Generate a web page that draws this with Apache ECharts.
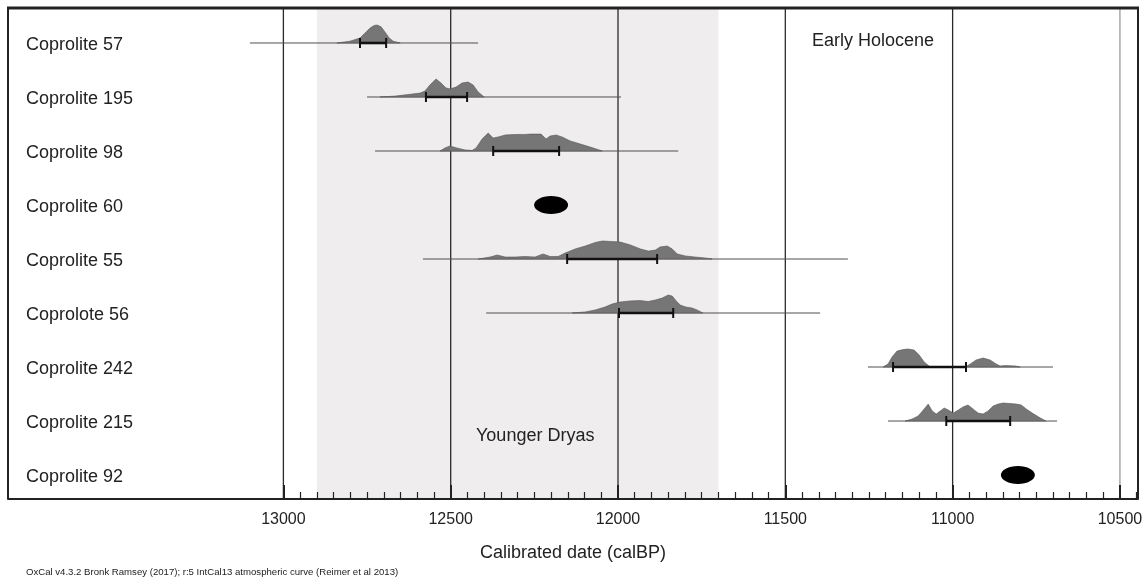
<!DOCTYPE html>
<html><head><meta charset="utf-8">
<script src="https://cdn.jsdelivr.net/npm/echarts@6/dist/echarts.min.js"></script>
<style>html,body{margin:0;padding:0;background:#fff}#c{width:1148px;height:580px}</style>
</head><body><div id="c"></div>
<script>
// ---------- data ----------
const samples = ['Coprolite 57','Coprolite 195','Coprolite 98','Coprolite 60','Coprolite 55','Coprolote 56','Coprolite 242','Coprolite 215','Coprolite 92'];
// full extent of each calibrated range (thin line), calBP
const rangeLines = [[13100,12418],[12750,11991],[12726,11820],null,[12583,11313],[12394,11396],[11253,10700],[11193,10688],null];
// highlighted range (thick bar with end ticks), calBP
const rangeBars = [[12771,12693],[12574,12451],[12373,12176],null,[12152,11883],[11997,11835],[11178,10960],[11019,10828],null];
// single-point dates (ellipse marks), calBP
const pointDates = [null,null,null,12200,null,null,null,null,10805];
// relative probability distributions [calBP, relative density]
const dist57 = [[12840,0],[12801,0.1],[12771,0.28],[12756,0.55],[12741,0.83],[12729,0.97],[12720,1],[12708,0.9],[12696,0.6],[12684,0.28],[12672,0.1],[12651,0]];
const dist195 = [[12711,0],[12666,0.05],[12621,0.15],[12591,0.22],[12577,0.33],[12562,0.67],[12544,1],[12529,0.78],[12514,0.5],[12502,0.45],[12484,0.55],[12466,0.78],[12448,0.83],[12433,0.67],[12418,0.28],[12400,0]];
const dist98 = [[12532,0],[12517,0.17],[12502,0.28],[12482,0.17],[12457,0.06],[12436,0.03],[12424,0.17],[12406,0.67],[12388,1],[12373,0.72],[12358,0.78],[12337,0.89],[12307,0.92],[12278,0.92],[12263,0.94],[12242,0.94],[12230,0.94],[12215,0.67],[12203,0.83],[12185,0.89],[12167,0.78],[12143,0.56],[12113,0.39],[12083,0.22],[12047,0]];
const dist55 = [[12418,0],[12382,0.11],[12361,0.22],[12337,0.11],[12307,0.11],[12278,0.14],[12248,0.11],[12224,0.28],[12203,0.14],[12179,0.14],[12158,0.33],[12128,0.56],[12098,0.72],[12068,0.92],[12047,1],[12017,0.97],[11993,0.94],[11963,0.78],[11933,0.56],[11909,0.44],[11888,0.5],[11874,0.67],[11853,0.72],[11838,0.56],[11823,0.28],[11799,0.17],[11770,0.11],[11740,0.06],[11719,0]];
const dist56 = [[12137,0],[12098,0.06],[12068,0.17],[12039,0.33],[12018,0.5],[11994,0.61],[11964,0.67],[11934,0.69],[11910,0.64],[11889,0.72],[11868,0.83],[11850,1],[11838,0.94],[11826,0.67],[11814,0.44],[11797,0.33],[11779,0.28],[11764,0.17],[11746,0]];
const dist242 = [[11208,0],[11193,0.17],[11181,0.56],[11166,0.89],[11148,0.97],[11133,1],[11115,0.94],[11100,0.67],[11085,0.28],[11067,0],[10962,0],[10947,0.17],[10930,0.39],[10909,0.5],[10888,0.39],[10870,0.17],[10858,0.06],[10843,0.08],[10813,0.06],[10798,0]];
const dist215 = [[11142,0],[11121,0.11],[11103,0.28],[11085,0.67],[11073,0.94],[11061,0.56],[11049,0.39],[11037,0.56],[11025,0.72],[11013,0.61],[10998,0.44],[10983,0.61],[10969,0.78],[10954,0.89],[10939,0.67],[10924,0.44],[10909,0.39],[10894,0.56],[10879,0.83],[10864,0.94],[10849,1],[10828,0.97],[10810,0.94],[10795,0.89],[10780,0.67],[10762,0.44],[10738,0.17],[10721,0]];
const distributions = [dist57, dist195, dist98, null, dist55, dist56, dist242, dist215, null];
// Younger Dryas interval, calBP
const youngerDryas = [12900, 11700];
// axis ticks
const majorTicks = [13000, 12500, 12000, 11500, 11000, 10500];
const minorTicks = [];
for (let v = 12950; v >= 10450; v -= 50) if (v % 500 !== 0) minorTicks.push(v);

// ---------- chart ----------
const FONT = '"Liberation Sans", Arial, sans-serif';
const X_MIN = 10446, X_MAX = 13823;
const chart = echarts.init(document.getElementById('c'), null, {renderer: 'canvas'});

const gridBox = {left: 8, right: 10, top: 8, bottom: 81, containLabel: false};

const option = {
  animation: false,
  backgroundColor: '#fff',
  grid: [Object.assign({}, gridBox), Object.assign({}, gridBox)],
  xAxis: [{
    gridIndex: 0, type: 'value', min: X_MIN, max: X_MAX, inverse: true, position: 'bottom', z: 10,
    axisLine: {show: true, onZero: false, lineStyle: {color: '#222', width: 2}},
    axisTick: {show: true, inside: true, length: 14, customValues: majorTicks, lineStyle: {color: '#222', width: 2}},
    axisLabel: {show: true, customValues: majorTicks, formatter: v => String(v), fontSize: 16, color: '#222', fontFamily: FONT, margin: 13},
    splitLine: {show: false},
    name: 'Calibrated date (calBP)', nameLocation: 'middle', nameGap: 45,
    nameTextStyle: {fontSize: 18, color: '#222', fontFamily: FONT}
  }, {
    gridIndex: 1, type: 'value', min: X_MIN, max: X_MAX, inverse: true, position: 'bottom', z: 10,
    axisLine: {show: false, onZero: false},
    axisTick: {show: true, inside: true, length: 7, customValues: minorTicks, lineStyle: {color: '#222', width: 1.2}},
    axisLabel: {show: false},
    splitLine: {show: false}
  }],
  yAxis: [
    {gridIndex: 0, type: 'value', min: -0.648, max: 8.444, inverse: true, show: false},
    {gridIndex: 1, type: 'value', min: 0, max: 1, show: false}
  ],
  graphic: [
    {type: 'text', z: 100, left: 812, top: 32, style: {text: 'Early Holocene', font: '18px ' + FONT, fill: '#222'}},
    {type: 'text', z: 100, left: 476, top: 427, style: {text: 'Younger Dryas', font: '18px ' + FONT, fill: '#222'}},
    {type: 'text', z: 100, left: 26, top: 567, style: {text: 'OxCal v4.3.2 Bronk Ramsey (2017); r:5 IntCal13 atmospheric curve (Reimer et al 2013)', font: '9.6px ' + FONT, fill: '#222'}}
  ],
  series: [
    { // Younger Dryas band
      type: 'custom', z: 1, silent: true, xAxisIndex: 0, yAxisIndex: 0,
      data: [youngerDryas],
      renderItem: function (params, api) {
        const cs = params.coordSys;
        const a = api.coord([api.value(0), 0])[0];
        const b = api.coord([api.value(1), 0])[0];
        return {type: 'rect', shape: {x: Math.min(a, b), y: cs.y, width: Math.abs(b - a), height: cs.height},
          style: {fill: '#efedee'}};
      }
    },
    { // vertical reference lines at major ticks
      type: 'custom', z: 2, silent: true, xAxisIndex: 0, yAxisIndex: 0,
      data: majorTicks.map(v => [v]),
      renderItem: function (params, api) {
        const cs = params.coordSys;
        const x = api.coord([api.value(0), 0])[0];
        const last = params.dataIndex === majorTicks.length - 1;
        return {type: 'line', shape: {x1: x, y1: cs.y, x2: x, y2: cs.y + cs.height},
          style: {stroke: last ? '#9a9a9a' : '#2a2a2a', lineWidth: 1.3}};
      }
    },
    { // sample rows
      type: 'custom', z: 3, silent: true, xAxisIndex: 0, yAxisIndex: 0,
      data: samples.map((s, i) => [i]),
      renderItem: function (params, api) {
        const i = params.dataIndex;
        const cs = params.coordSys;
        const yb = api.coord([majorTicks[0], i])[1];
        const X = v => api.coord([v, i])[0];
        const ch = [];
        ch.push({type: 'text', style: {x: cs.x + 18, y: yb + 2, text: samples[i], font: '18px ' + FONT,
          fill: '#222', align: 'left', verticalAlign: 'middle'}});
        const rl = rangeLines[i];
        if (rl) ch.push({type: 'line', shape: {x1: X(rl[0]), y1: yb, x2: X(rl[1]), y2: yb}, style: {stroke: '#505050', lineWidth: 1}});
        const d = distributions[i];
        if (d) {
          const pts = d.map(p => [X(p[0]), yb - p[1] * 18]);
          pts.unshift([X(d[0][0]), yb]);
          pts.push([X(d[d.length - 1][0]), yb]);
          ch.push({type: 'polygon', shape: {points: pts}, style: {fill: '#767676', stroke: '#555', lineWidth: 0.6}});
        }
        const rb = rangeBars[i];
        if (rb) {
          const x1 = X(rb[0]), x2 = X(rb[1]);
          ch.push({type: 'line', shape: {x1: x1, y1: yb, x2: x2, y2: yb}, style: {stroke: '#111', lineWidth: 2.6}});
          ch.push({type: 'line', shape: {x1: x1, y1: yb - 5, x2: x1, y2: yb + 5}, style: {stroke: '#111', lineWidth: 2}});
          ch.push({type: 'line', shape: {x1: x2, y1: yb - 5, x2: x2, y2: yb + 5}, style: {stroke: '#111', lineWidth: 2}});
        }
        const pd = pointDates[i];
        if (pd != null) ch.push({type: 'ellipse', shape: {cx: X(pd), cy: yb, rx: 17, ry: 9}, style: {fill: '#000'}});
        return {type: 'group', children: ch};
      }
    },
    { // frame
      type: 'custom', z: 4, silent: true, xAxisIndex: 0, yAxisIndex: 0,
      data: [[0]],
      renderItem: function (params, api) {
        const cs = params.coordSys;
        return {type: 'group', children: [
          {type: 'line', shape: {x1: cs.x - 1, y1: cs.y, x2: cs.x + cs.width + 1, y2: cs.y}, style: {stroke: '#222', lineWidth: 3}},
          {type: 'line', shape: {x1: cs.x, y1: cs.y, x2: cs.x, y2: cs.y + cs.height}, style: {stroke: '#222', lineWidth: 2}},
          {type: 'line', shape: {x1: cs.x + cs.width, y1: cs.y, x2: cs.x + cs.width, y2: cs.y + cs.height}, style: {stroke: '#222', lineWidth: 2}}
        ]};
      }
    }
  ]
};
chart.setOption(option);
</script>
</body></html>
